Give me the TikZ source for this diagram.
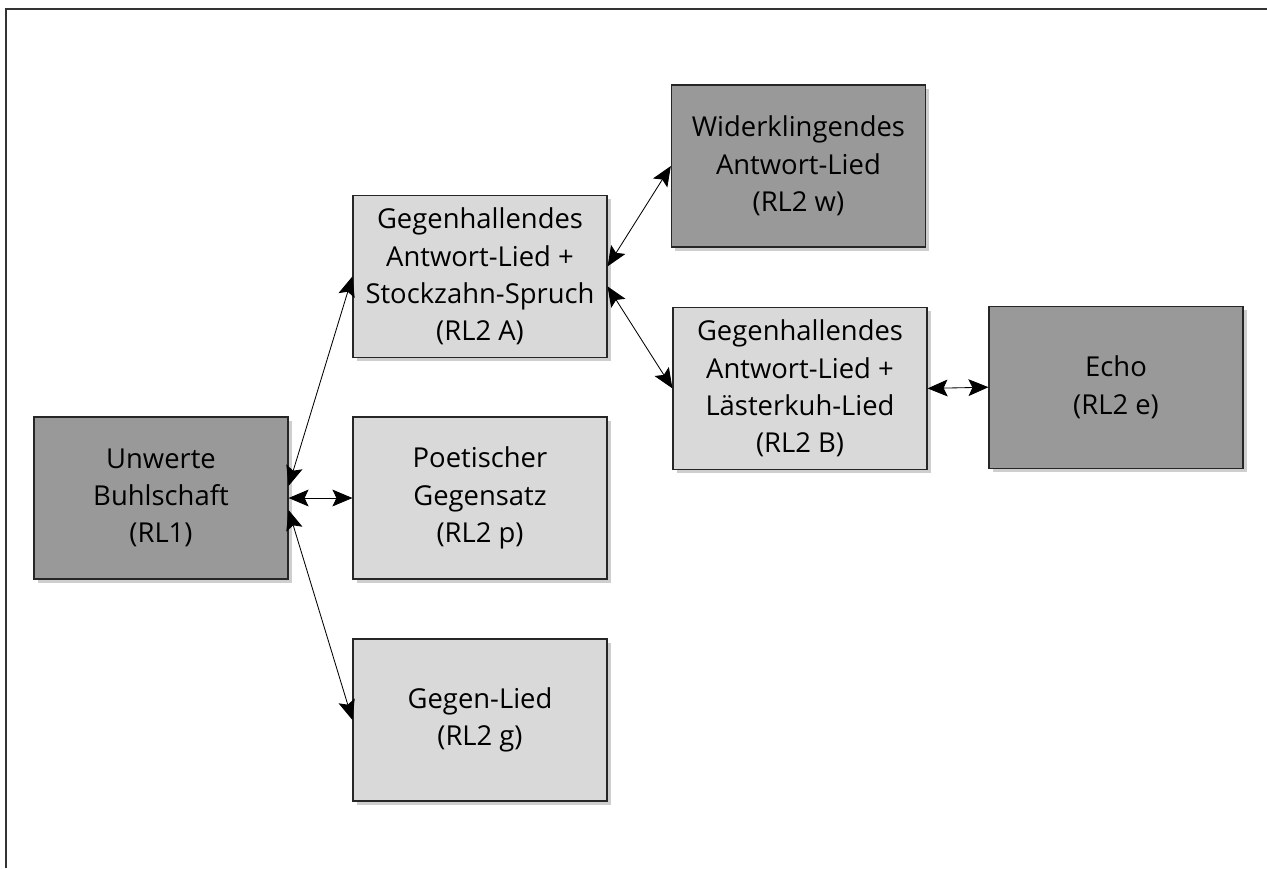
\documentclass[tikz,border=0pt]{standalone}
\usepackage{fontspec}
\setmainfont{Open Sans}
\usetikzlibrary{arrows.meta,shadows}

\tikzset{
  ebene/.style={draw=black!85, line width=0.8pt, minimum width=6.35cm,
    minimum height=4.05cm, align=center, font=\fontsize{19.5}{26.5}\selectfont,
    drop shadow={shadow xshift=0.9mm, shadow yshift=-0.9mm, opacity=0.35, fill=black!55}},
  dunkel/.style={ebene, fill=black!40},
  hell/.style={ebene, fill=black!15},
  bezug/.style={{Stealth[length=5mm,width=4.2mm,inset=1mm]}-{Stealth[length=5mm,width=4.2mm,inset=1mm]}, line width=0.6pt}
}

\begin{document}
\begin{tikzpicture}
  \useasboundingbox (0,0) rectangle (31.675,-21.7);
  \draw[line width=1.1pt, black!80] (0.15,-21.7) -- (0.15,-0.225) -- (31.675,-0.225);

  % erste Ebene
  \node[dunkel] (rl1) at (4.025,-12.45) {Unwerte\\Buhlschaft\\(RL1)};

  % zweite Ebene
  \node[hell] (rl2A) at (12.0,-6.91) {Gegenhallendes\\Antwort-Lied +\\Stockzahn-Spruch\\(RL2 A)};
  \node[hell] (rl2p) at (12.0,-12.45) {Poetischer\\Gegensatz\\(RL2 p)};
  \node[hell] (rl2g) at (12.0,-18.0) {Gegen-Lied\\(RL2 g)};

  \node[dunkel] (rl2w) at (19.96,-4.15) {Widerklingendes\\Antwort-Lied\\(RL2 w)};
  \node[hell] (rl2B) at (20.0,-9.71) {Gegenhallendes\\Antwort-Lied +\\Lästerkuh-Lied\\(RL2 B)};
  \node[dunkel] (rl2e) at (27.9,-9.68) {Echo\\(RL2 e)};

  % Verbindungen
  \draw[bezug] ([yshift=3mm]rl1.east) -- (rl2A.west);
  \draw[bezug] (rl1.east) -- (rl2p.west);
  \draw[bezug] ([yshift=-3mm]rl1.east) -- (rl2g.west);
  \draw[bezug] ([yshift=2.5mm]rl2A.east) -- (rl2w.west);
  \draw[bezug] ([yshift=-2.5mm]rl2A.east) -- (rl2B.west);
  \draw[bezug] (rl2B.east) -- (rl2e.west);
\end{tikzpicture}
\end{document}
